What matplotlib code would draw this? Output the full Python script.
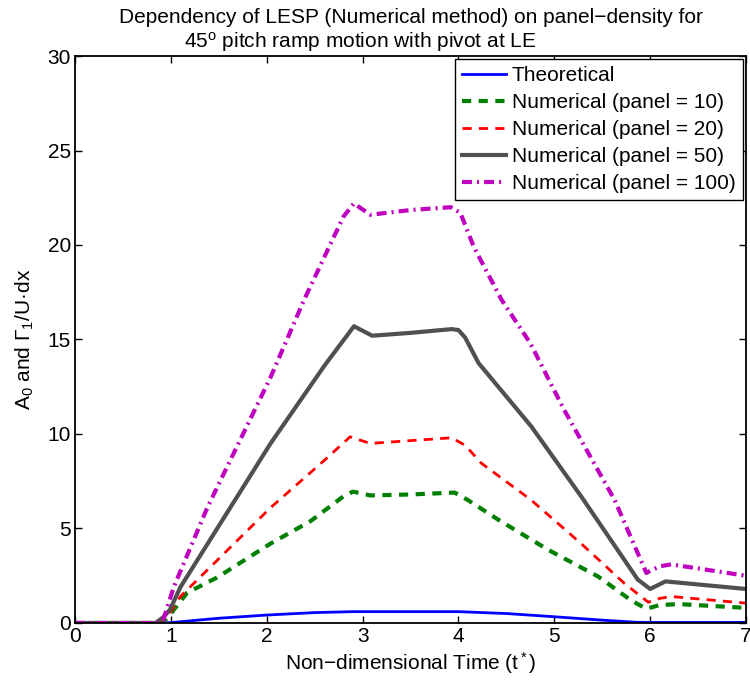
import matplotlib
matplotlib.use("Agg")
import matplotlib.pyplot as plt

plt.rcParams['font.family'] = ['Liberation Sans', 'DejaVu Sans']
plt.rcParams['mathtext.fontset'] = 'custom'
plt.rcParams['mathtext.rm'] = 'Liberation Sans'
plt.rcParams['mathtext.it'] = 'Liberation Sans'

# theoretical LESP
t_theo = [0, 0.9, 1.0, 1.5, 2.0, 2.5, 2.9, 3.0, 4.0, 4.1, 4.5, 5.0, 5.5, 5.85, 6.0, 7.0]
v_theo = [0, 0, 0.02, 0.25, 0.42, 0.55, 0.6, 0.6, 0.6, 0.58, 0.5, 0.33, 0.15, 0.04, 0.03, 0.03]

# numerical, panel = 10
t_p10 = [0, 0.85, 0.95, 1.0, 1.17, 1.48, 2.04, 2.46, 2.8, 2.9, 3.08, 3.5, 3.96, 4.1,
         4.42, 4.94, 5.46, 5.8, 5.96, 6.1, 6.3, 7.0]
v_p10 = [0, 0, 0.2, 0.5, 1.6, 2.4, 4.2, 5.4, 6.7, 6.95, 6.75, 6.8, 6.9, 6.5,
         5.45, 3.86, 2.45, 1.2, 0.75, 0.95, 1.0, 0.8]

# numerical, panel = 20
t_p20 = [0, 0.85, 0.96, 1.1, 1.34, 2.04, 2.6, 2.87, 3.08, 3.5, 3.93, 4.07, 4.24,
         4.76, 5.28, 5.73, 5.98, 6.1, 6.22, 7.0]
v_p20 = [0, 0, 0.3, 1.4, 2.6, 6.1, 8.6, 9.85, 9.5, 9.65, 9.8, 9.4, 8.45,
         6.5, 4.2, 2.1, 1.1, 1.3, 1.4, 1.05]

# numerical, panel = 50
t_p50 = [0, 0.84, 0.92, 0.99, 1.10, 2.04, 2.6, 2.91, 3.10, 3.5, 3.93, 4.0, 4.07,
         4.21, 4.76, 5.28, 5.87, 6.0, 6.16, 7.0]
v_p50 = [0, 0, 0.3, 0.7, 1.9, 9.5, 13.6, 15.7, 15.2, 15.35, 15.55, 15.5, 15.1,
         13.75, 10.4, 6.7, 2.3, 1.8, 2.2, 1.8]

# numerical, panel = 100
t_p100 = [0, 0.84, 0.92, 1.03, 1.38, 2.04, 2.39, 2.8, 2.91, 3.08, 3.5, 3.92, 4.02,
          4.16, 4.45, 4.75, 5.1, 5.63, 5.96, 6.1, 6.22, 7.0]
v_p100 = [0, 0, 0.15, 1.9, 6.1, 13.0, 17.1, 21.5, 22.2, 21.6, 21.85, 22.0, 21.7,
          19.9, 17.1, 14.8, 11.3, 6.5, 2.65, 3.0, 3.1, 2.5]

FS = 15

fig = plt.figure(figsize=(7.5, 6.88), dpi=100)
ax = fig.add_axes([0.1, 0.0945, 0.8947, 0.8241])

ax.plot(t_theo, v_theo, color='#0000ff', lw=2, label='Theoretical')
ax.plot(t_p10, v_p10, color='#008000', lw=3, dashes=(2.2, 1.8), label='Numerical (panel = 10)')
ax.plot(t_p20, v_p20, color='#ff0000', lw=2, dashes=(3.3, 2.6), label='Numerical (panel = 20)')
ax.plot(t_p50, v_p50, color='#505050', lw=3, label='Numerical (panel = 50)')
ax.plot(t_p100, v_p100, color='#bf00bf', lw=3, dashes=(2.4, 1.2, 0.5, 1.2),
        label='Numerical (panel = 100)')

ax.set_xlim(0, 7)
ax.set_ylim(0, 30)
ax.set_xticks(range(0, 8))
ax.set_yticks(range(0, 31, 5))
ax.tick_params(direction='in', top=True, right=True, length=5, width=1,
               labelsize=FS, pad=3)
for s in ax.spines.values():
    s.set_linewidth(1.3)

ax.set_xlabel('Non\u2212dimensional Time (t$^*$)', fontsize=FS, labelpad=3)
ax.set_ylabel('A$_0$ and \u0393$_1$/U\u00b7dx', fontsize=FS, labelpad=8)

fig.text(0.5475, 1 - 23 / 688, 'Dependency of LESP (Numerical method) on panel\u2212density for',
         ha='center', va='baseline', fontsize=FS)
fig.text(184 / 750, 1 - 48 / 688, '45$^o$ pitch ramp motion with pivot at LE',
         ha='left', va='baseline', fontsize=FS)

leg = ax.legend(loc='upper right', fontsize=FS, handlelength=2.07, handletextpad=0.3,
                borderpad=0.35, labelspacing=0.38, borderaxespad=0.15, fancybox=False,
                framealpha=1)
leg.get_frame().set_edgecolor('black')
leg.get_frame().set_linewidth(1)

fig.savefig('out.png', dpi=100)
